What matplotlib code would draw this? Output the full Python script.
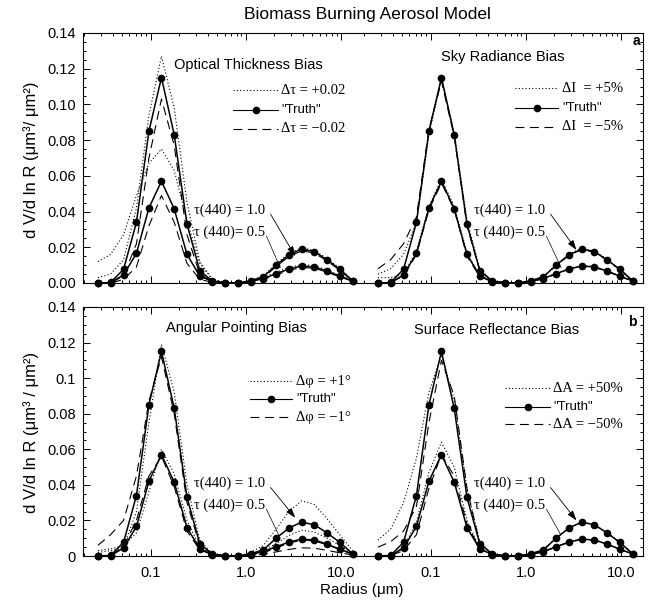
"""Biomass Burning Aerosol Model - size distribution retrieval biases"""
import matplotlib
matplotlib.use('Agg')
import matplotlib.pyplot as plt
from matplotlib.lines import Line2D
from matplotlib.ticker import FixedLocator, MultipleLocator, LogLocator, NullFormatter

plt.rcParams['font.family'] = ['Liberation Sans', 'DejaVu Sans']
SERIF = ['Liberation Serif', 'DejaVu Serif']

# radius bins (um)
radius = [0.028, 0.038, 0.052, 0.071, 0.096, 0.130, 0.177, 0.241, 0.328, 0.446, 0.607,
          0.825, 1.12, 1.53, 2.08, 2.83, 3.85, 5.23, 7.12, 9.68, 13.2]

# "Truth" for tau(440)=1.0 and 0.5
truth_10 = [0.0, 0.0003, 0.0077, 0.034, 0.085, 0.115, 0.083, 0.033, 0.007, 0.001, 0.0002,
            0.0, 0.0012, 0.0035, 0.0100, 0.0157, 0.0190, 0.0176, 0.0130, 0.0077, 0.0013]
truth_05 = [0.0, 0.0002, 0.0045, 0.0166, 0.042, 0.057, 0.0415, 0.016, 0.004, 0.0008, 0.0001,
            0.0, 0.0008, 0.0025, 0.0052, 0.0078, 0.0095, 0.0090, 0.0067, 0.0038, 0.0012]

# optical thickness bias
ot_plus_10 = [0.003, 0.005, 0.013, 0.042, 0.094, 0.127, 0.098, 0.045, 0.012, 0.002, 0.0004,
              0.0001, 0.0015, 0.004, 0.0108, 0.0165, 0.0198, 0.0183, 0.0137, 0.0082, 0.0016]
ot_plus_05 = [0.012, 0.016, 0.027, 0.049, 0.067, 0.075, 0.063, 0.035, 0.011, 0.002, 0.0004,
              0.0001, 0.0012, 0.003, 0.006, 0.0087, 0.0103, 0.0097, 0.0073, 0.0043, 0.0015]
ot_minus_10 = [0.0, 0.0, 0.004, 0.022, 0.070, 0.103, 0.077, 0.027, 0.005, 0.0008, 0.0001,
               0.0, 0.001, 0.003, 0.0092, 0.0148, 0.0180, 0.0168, 0.0124, 0.0072, 0.0011]
ot_minus_05 = [0.0, 0.0, 0.002, 0.009, 0.032, 0.049, 0.034, 0.011, 0.002, 0.0004, 0.0,
               0.0, 0.0006, 0.002, 0.0045, 0.0070, 0.0087, 0.0083, 0.0061, 0.0034, 0.0010]

# sky radiance bias
sr_plus_10 = [0.005, 0.008, 0.016, 0.034, 0.083, 0.114, 0.084, 0.035, 0.008, 0.001, 0.0002,
              0.0, 0.0013, 0.0036, 0.0102, 0.0160, 0.0194, 0.0180, 0.0133, 0.0079, 0.0014]
sr_minus_10 = [0.008, 0.013, 0.022, 0.037, 0.086, 0.113, 0.082, 0.032, 0.007, 0.001, 0.0002,
               0.0, 0.0011, 0.0034, 0.0098, 0.0154, 0.0187, 0.0173, 0.0128, 0.0075, 0.0012]
sr_plus_05 = [0.003, 0.003, 0.005, 0.018, 0.043, 0.058, 0.043, 0.017, 0.004, 0.0008, 0.0001,
              0.0, 0.0009, 0.0026, 0.0054, 0.0081, 0.0098, 0.0093, 0.0069, 0.0040, 0.0013]
sr_minus_05 = [0.0, 0.0002, 0.004, 0.016, 0.041, 0.056, 0.041, 0.015, 0.0035, 0.0007, 0.0001,
               0.0, 0.0008, 0.0024, 0.0050, 0.0076, 0.0093, 0.0088, 0.0065, 0.0037, 0.0011]

# angular pointing bias
ap_plus_10 = [0.002, 0.003, 0.005, 0.025, 0.075, 0.119, 0.092, 0.040, 0.009, 0.001, 0.0002,
              0.0, 0.002, 0.006, 0.015, 0.025, 0.031, 0.029, 0.021, 0.012, 0.003]
ap_minus_10 = [0.006, 0.012, 0.020, 0.045, 0.087, 0.112, 0.080, 0.030, 0.006, 0.001, 0.0001,
               0.0, 0.0006, 0.0018, 0.0045, 0.0072, 0.0090, 0.0085, 0.0063, 0.0037, 0.0010]
ap_plus_05 = [0.003, 0.004, 0.006, 0.013, 0.036, 0.060, 0.046, 0.020, 0.005, 0.0008, 0.0001,
              0.0, 0.001, 0.003, 0.007, 0.0115, 0.0145, 0.0135, 0.010, 0.006, 0.0015]
ap_minus_05 = [0.0, 0.0002, 0.0055, 0.020, 0.045, 0.056, 0.039, 0.014, 0.0035, 0.0006, 0.0,
               0.0, 0.0004, 0.001, 0.0023, 0.0037, 0.0046, 0.0044, 0.0032, 0.0018, 0.0006]

# surface reflectance bias
sf_plus_10 = [0.009, 0.015, 0.030, 0.055, 0.092, 0.113, 0.088, 0.038, 0.008, 0.001, 0.0002,
              0.0, 0.0012, 0.0035, 0.0101, 0.0158, 0.0191, 0.0177, 0.0131, 0.0078, 0.0014]
sf_minus_10 = [0.005, 0.008, 0.014, 0.028, 0.075, 0.110, 0.090, 0.038, 0.007, 0.001, 0.0002,
               0.0, 0.0011, 0.0034, 0.0099, 0.0156, 0.0189, 0.0175, 0.0129, 0.0076, 0.0012]
sf_plus_05 = [0.0, 0.0002, 0.005, 0.019, 0.047, 0.064, 0.050, 0.020, 0.0045, 0.0008, 0.0001,
              0.0, 0.0008, 0.0025, 0.0053, 0.0079, 0.0096, 0.0091, 0.0068, 0.0039, 0.0012]
sf_minus_05 = [0.0, 0.0002, 0.003, 0.012, 0.038, 0.057, 0.045, 0.018, 0.004, 0.0007, 0.0001,
               0.0, 0.0008, 0.0024, 0.0051, 0.0077, 0.0094, 0.0089, 0.0066, 0.0037, 0.0011]

panel_titles = ['Optical Thickness Bias', 'Sky Radiance Bias',
                'Angular Pointing Bias', 'Surface Reflectance Bias']
legend_plus = ['Δτ = +0.02', 'ΔI  = +5%', 'Δφ = +1°', 'ΔA = +50%']
legend_minus = ['Δτ = \u22120.02', 'ΔI  = \u22125%', 'Δφ = \u22121°', 'ΔA = \u221250%']
plus_curves = [(ot_plus_10, ot_plus_05), (sr_plus_10, sr_plus_05),
               (ap_plus_10, ap_plus_05), (sf_plus_10, sf_plus_05)]
minus_curves = [(ot_minus_10, ot_minus_05), (sr_minus_10, sr_minus_05),
                (ap_minus_10, ap_minus_05), (sf_minus_10, sf_minus_05)]

yticks = [0.0, 0.02, 0.04, 0.06, 0.08, 0.10, 0.12, 0.14]
ylabels_top = ['0.00', '0.02', '0.04', '0.06', '0.08', '0.10', '0.12', '0.14']
ylabels_bot = ['0', '0.02', '0.04', '0.06', '0.08', '0.1', '0.12', '0.14']
xticks = [0.1, 1.0, 10.0]
xlabels = ['0.1', '1.0', '10.0']

# arrow tips (data coords) for tau=1.0 and tau=0.5 callouts
tips_10 = [(3.3, 0.0150), (3.4, 0.0185), (3.3, 0.0215), (3.4, 0.0200)]
tips_05 = [(2.3, 0.0085), (2.35, 0.0085), (2.3, 0.0100), (2.3, 0.0125)]

W, H = 652, 607
fig = plt.figure(figsize=(W / 100, H / 100), dpi=100)


def box(x0, y0, x1, y1):
    return [x0 / W, 1 - y1 / H, (x1 - x0) / W, (y1 - y0) / H]


rows = [(33, 283), (307, 556)]
cols = [(83, 363), (363, 643)]
title_pos = [(248, 65), (503, 57), (236, 328), (497, 330)]
leg_pos = [(233, 278, 281, [90, 110, 129]), (515, 558, 562, [88, 108, 127]),
           (250, 292, 296, [381, 399, 417]), (505, 550, 553, [388, 407, 424])]

for i in range(4):
    r, c = divmod(i, 2)
    ax = fig.add_axes(box(cols[c][0], rows[r][0], cols[c][1], rows[r][1]))
    ax.set_xscale('log')
    ax.set_xlim(0.0195, 17)
    ax.set_ylim(0, 0.14)

    p10, p05 = plus_curves[i]
    m10, m05 = minus_curves[i]
    for y in (p10, p05):
        ax.plot(radius, y, color='k', lw=0.8, ls=(0, (1, 2)), clip_on=False)
    for y in (m10, m05):
        ax.plot(radius, y, color='k', lw=0.8, ls=(0, (8, 5)), clip_on=False)
    for y in (truth_10, truth_05):
        ax.plot(radius, y, color='k', lw=1.1, marker='o', ms=4.5, clip_on=False, zorder=5)

    ax.yaxis.set_major_locator(FixedLocator(yticks))
    ax.yaxis.set_minor_locator(MultipleLocator(0.005))
    ax.xaxis.set_major_locator(FixedLocator(xticks))
    ax.xaxis.set_minor_locator(LogLocator(base=10, subs=range(2, 10)))
    ax.xaxis.set_minor_formatter(NullFormatter())
    ax.tick_params(which='both', direction='in', top=True, bottom=True,
                   left=(c == 0), right=(c == 1), labelleft=(c == 0),
                   labelbottom=(r == 1), labelsize=10.5, width=0.7)
    ax.tick_params(which='major', length=5, pad=5)
    ax.tick_params(which='minor', length=2.5)
    if c == 0:
        ax.spines['right'].set_visible(False)
        ax.set_yticklabels(ylabels_top if r == 0 else ylabels_bot)
    else:
        ax.spines['left'].set_visible(False)
    if r == 1:
        ax.set_xticklabels(xlabels)
        ax.tick_params(axis='x', pad=7)
    for s in ax.spines.values():
        s.set_linewidth(0.8)

    # tau callouts
    ax.text(0.395, 0.292, 'τ(440) = 1.0', transform=ax.transAxes, family=SERIF,
            fontsize=10.5, va='center')
    ax.text(0.395, 0.204, 'τ (440)= 0.5', transform=ax.transAxes, family=SERIF,
            fontsize=10.5, va='center')
    ax.annotate('', xy=tips_10[i], xycoords='data', xytext=(0.67, 0.275),
                textcoords='axes fraction',
                arrowprops=dict(arrowstyle='-|>,head_length=0.6,head_width=0.2',
                                color='k', lw=0.6, shrinkA=0, shrinkB=0))
    ax.annotate('', xy=tips_05[i], xycoords='data', xytext=(0.655, 0.188),
                textcoords='axes fraction',
                arrowprops=dict(arrowstyle='-', color='k', lw=0.5, shrinkA=0, shrinkB=0))

    # panel title
    tx, ty = title_pos[i]
    fig.text(tx / W, 1 - ty / H, panel_titles[i], ha='center', va='center', fontsize=10.5)

    # legend
    lx0, lx1, tx0, ys = leg_pos[i]
    styles = [dict(ls=(0, (1, 2))), dict(ls='-'), dict(ls=(0, (8, 5)))]
    labels = [legend_plus[i], '"Truth"', legend_minus[i]]
    for k in range(3):
        yy = 1 - ys[k] / H
        fig.add_artist(Line2D([lx0 / W, lx1 / W], [yy, yy], transform=fig.transFigure,
                              color='k', lw=0.8, **styles[k]))
        if k == 1:
            fig.add_artist(Line2D([(lx0 + lx1) / 2 / W], [yy], transform=fig.transFigure,
                                  color='k', marker='o', ms=4.5, ls='none'))
            fig.text(tx0 / W, yy, labels[k], va='center', fontsize=9.5)
        else:
            fig.text(tx0 / W, yy, labels[k], va='center', fontsize=10.5, family=SERIF)

fig.text(636 / W, 1 - 41 / H, 'a', fontsize=10, fontweight='bold', ha='center', va='center')
fig.text(632 / W, 1 - 322 / H, 'b', fontsize=10, fontweight='bold', ha='center', va='center')

fig.text(367 / W, 1 - 15 / H, 'Biomass Burning Aerosol Model', ha='center', va='center',
         fontsize=12.5)
fig.text(31 / W, 1 - 160 / H, 'd V/d ln R (μm³/ μm²)', rotation=90, ha='center', va='center',
         fontsize=12)
fig.text(31 / W, 1 - 432 / H, 'd V/d ln R (μm³ / μm²)', rotation=90, ha='center', va='center',
         fontsize=12)
fig.text(362 / W, 1 - 590 / H, 'Radius (μm)', ha='center', va='center', fontsize=11)

fig.savefig('out.png', dpi=100)
